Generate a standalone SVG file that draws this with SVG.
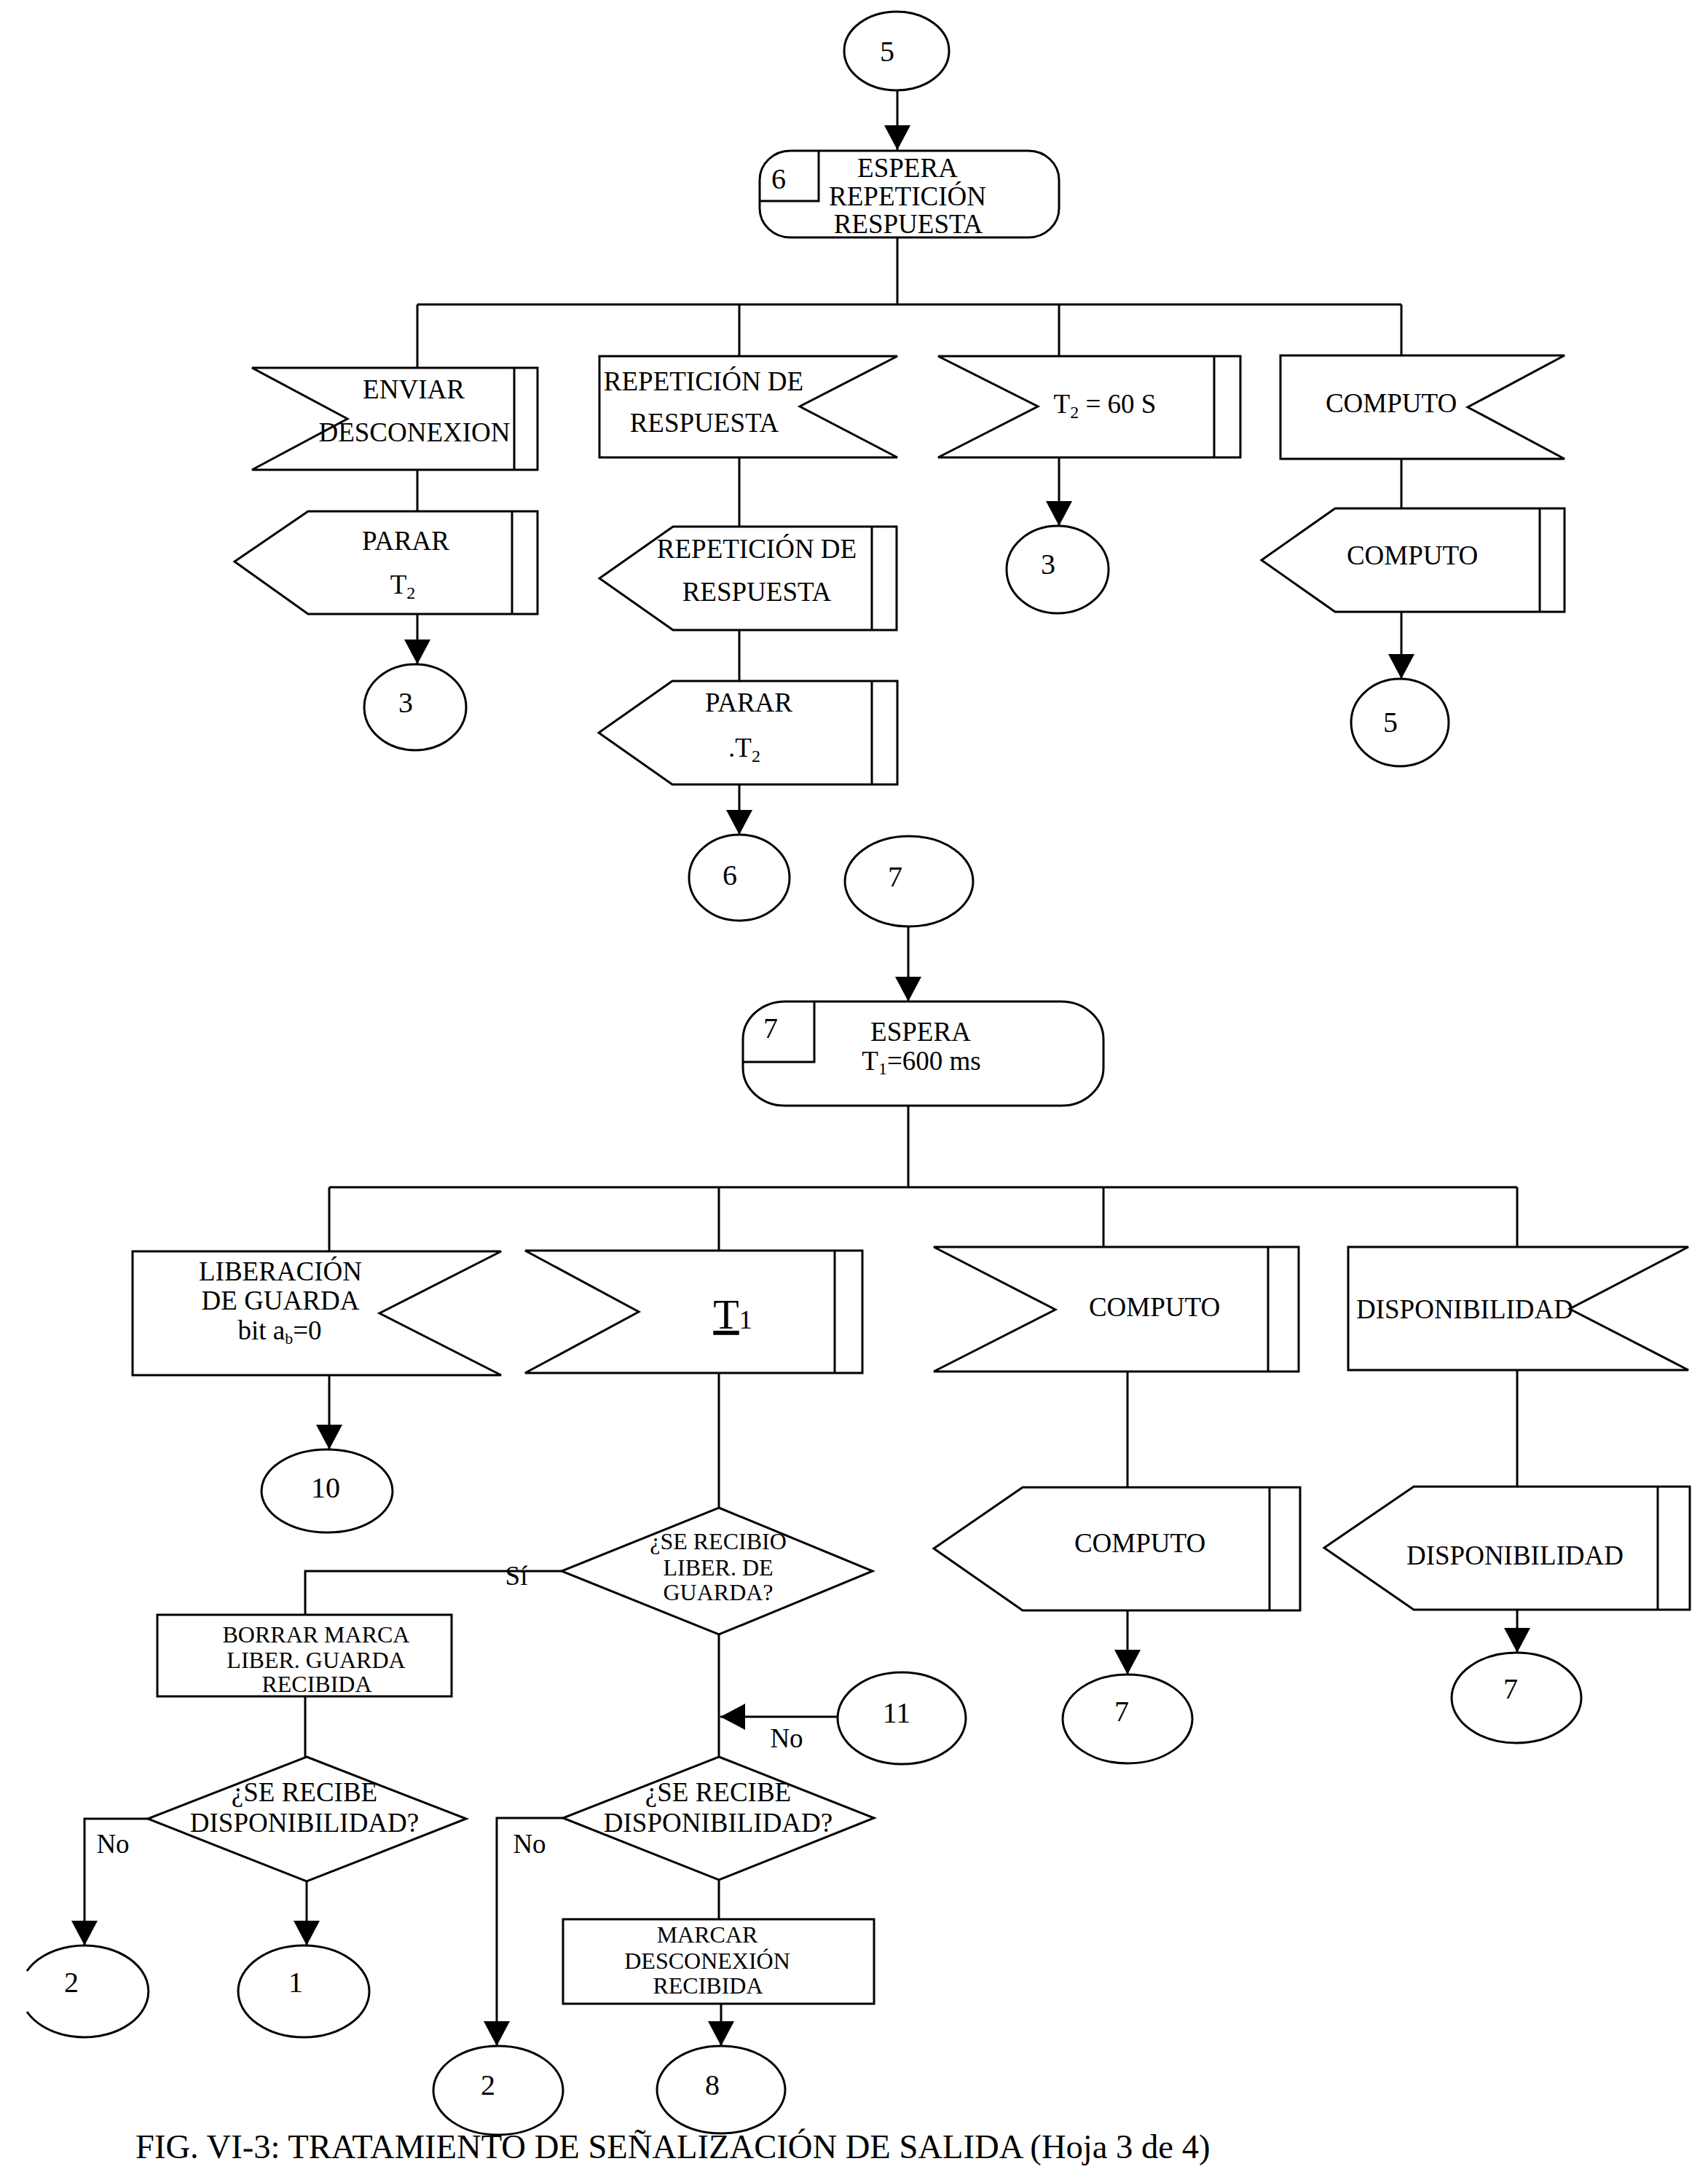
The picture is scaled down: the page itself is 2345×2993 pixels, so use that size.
<svg xmlns="http://www.w3.org/2000/svg" width="2345" height="2993" viewBox="0 0 2345 2993">
<style>
.s{fill:#fff;stroke:#000;stroke-width:3;stroke-linejoin:miter}
.l{fill:none;stroke:#000;stroke-width:3}
.a{fill:none;stroke:#000;stroke-width:3;marker-end:url(#ah)}
text{font-family:"Liberation Serif","Times New Roman",serif;font-size:37px;text-anchor:middle;fill:#000}
.sm{font-size:32px}
.n{font-size:40px}
.big{font-size:58px}
.cap{font-size:46.6px;text-anchor:start}
</style>
<defs>
<marker id="ah" markerUnits="userSpaceOnUse" markerWidth="36" markerHeight="36" viewBox="0 0 36 36" refX="34" refY="18" orient="auto">
<path d="M0,0 L34,18 L0,36 z" fill="#000"/>
</marker>
</defs>
<rect width="2345" height="2993" fill="#fff"/>

<g id="connectors">
<path class="a" d="M1232,124 V206"/>
<path class="l" d="M1232,326 V418"/>
<path class="l" d="M573,418 H1924"/>
<path class="l" d="M573,418 V505"/>
<path class="l" d="M1015,418 V489"/>
<path class="l" d="M1454,418 V489"/>
<path class="l" d="M1924,418 V489"/>
<path class="l" d="M573,645 V702"/>
<path class="a" d="M573,843 V912"/>
<path class="l" d="M1015,628 V723"/>
<path class="l" d="M1015,865 V935"/>
<path class="a" d="M1015,1077 V1146"/>
<path class="a" d="M1454,628 V722"/>
<path class="l" d="M1924,630 V698"/>
<path class="a" d="M1924,840 V932"/>

<path class="a" d="M1247,1272 V1375"/>
<path class="l" d="M1247,1518 V1630"/>
<path class="l" d="M452,1630 H2083"/>
<path class="l" d="M452,1630 V1718"/>
<path class="l" d="M987,1630 V1717"/>
<path class="l" d="M1515,1630 V1712"/>
<path class="l" d="M2083,1630 V1712"/>
<path class="a" d="M452,1888 V1990"/>
<path class="l" d="M987,1885 V2070"/>
<path class="l" d="M1548,1883 V2042"/>
<path class="l" d="M2083,1881 V2041"/>
<path class="a" d="M1548,2211 V2299"/>
<path class="a" d="M2083,2210 V2269"/>
<path class="l" d="M771,2157 H419 V2217"/>
<path class="l" d="M419,2329 V2412"/>
<path class="a" d="M203,2497 H116 V2671"/>
<path class="a" d="M421,2583 V2671"/>
<path class="l" d="M987,2244 V2412"/>
<path class="a" d="M1150,2357 H989"/>
<path class="a" d="M773,2496 H682 V2809"/>
<path class="l" d="M987,2581 V2635"/>
<path class="a" d="M990,2751 V2809"/>
</g>

<g id="c5top"><ellipse class="s" cx="1231" cy="70" rx="72" ry="54"/><text class="n" x="1218" y="84">5</text></g>

<g id="espera6">
<rect class="s" x="1043" y="207" width="411" height="119" rx="42" ry="40"/>
<path class="l" d="M1124,207 V276 H1043"/>
<text class="n" x="1069" y="259">6</text>
<text x="1246" y="243">ESPERA</text>
<text x="1246" y="282">REPETICIÓN</text>
<text x="1247" y="320">RESPUESTA</text>
</g>

<g id="enviar">
<polygon class="s" points="346,505 477,575 346,645 738,645 738,505"/>
<path class="l" d="M706,505 V645"/>
<text x="568" y="547">ENVIAR</text>
<text x="569" y="606">DESCONEXION</text>
</g>

<g id="repeticion-in">
<polygon class="s" points="823,489 1232,489 1098,558 1232,628 823,628"/>
<text x="966" y="536">REPETICIÓN DE</text>
<text x="967" y="593">RESPUESTA</text>
</g>

<g id="t2">
<polygon class="s" points="1288,489 1425,558 1288,628 1703,628 1703,489"/>
<path class="l" d="M1667,489 V628"/>
<text x="1517" y="567">T<tspan font-size="24" dy="7">2</tspan><tspan dy="-7"> = 60 S</tspan></text>
</g>

<g id="computo-in1">
<polygon class="s" points="1758,488 2148,488 2015,559 2148,630 1758,630"/>
<text x="1910" y="566">COMPUTO</text>
</g>

<g id="parar1">
<polygon class="s" points="423,702 738,702 738,843 423,843 322,771"/>
<path class="l" d="M703,702 V843"/>
<text x="557" y="755">PARAR</text>
<text x="553" y="815">T<tspan font-size="24" dy="7">2</tspan></text>
</g>

<g id="repeticion-out">
<polygon class="s" points="924,723 1231,723 1231,865 924,865 823,794"/>
<path class="l" d="M1197,723 V865"/>
<text x="1039" y="766">REPETICIÓN DE</text>
<text x="1039" y="825">RESPUESTA</text>
</g>

<g id="parar2">
<polygon class="s" points="923,935 1232,935 1232,1077 923,1077 822,1006"/>
<path class="l" d="M1197,935 V1077"/>
<text x="1028" y="977">PARAR</text>
<text x="1022" y="1039">.T<tspan font-size="24" dy="7">2</tspan></text>
</g>

<g id="computo-out1">
<polygon class="s" points="1833,698 2148,698 2148,840 1833,840 1732,769"/>
<path class="l" d="M2114,698 V840"/>
<text x="1939" y="775">COMPUTO</text>
</g>

<g id="c3a"><ellipse class="s" cx="570" cy="971" rx="70" ry="59"/><text class="n" x="557" y="978">3</text></g>
<g id="c3b"><ellipse class="s" cx="1452" cy="782" rx="70" ry="60"/><text class="n" x="1439" y="788">3</text></g>
<g id="c5b"><ellipse class="s" cx="1922" cy="992" rx="67" ry="60"/><text class="n" x="1909" y="1005">5</text></g>
<g id="c6"><ellipse class="s" cx="1015" cy="1205" rx="69" ry="59"/><text class="n" x="1002" y="1215">6</text></g>
<g id="c7top"><ellipse class="s" cx="1248" cy="1210" rx="88" ry="62"/><text class="n" x="1229" y="1217">7</text></g>

<g id="espera7">
<rect class="s" x="1020" y="1375" width="495" height="143" rx="58" ry="52"/>
<path class="l" d="M1118,1375 V1458 H1020"/>
<text class="n" x="1058" y="1425">7</text>
<text x="1264" y="1429">ESPERA</text>
<text x="1265" y="1469">T<tspan font-size="24" dy="6">1</tspan><tspan dy="-6">=600 ms</tspan></text>
</g>

<g id="liberacion">
<polygon class="s" points="182,1718 688,1718 521,1803 688,1888 182,1888"/>
<text x="385" y="1758">LIBERACIÓN</text>
<text x="385" y="1798">DE GUARDA</text>
<text x="384" y="1839">bit a<tspan font-size="22" dy="6">b</tspan><tspan dy="-6">=0</tspan></text>
</g>

<g id="t1">
<polygon class="s" points="721,1717 877,1801 721,1885 1184,1885 1184,1717"/>
<path class="l" d="M1146,1717 V1885"/>
<text class="big" x="1006" y="1824"><tspan text-decoration="underline">T</tspan><tspan font-size="36">1</tspan></text>
</g>

<g id="computo-in2">
<polygon class="s" points="1282,1712 1449,1798 1282,1883 1783,1883 1783,1712"/>
<path class="l" d="M1741,1712 V1883"/>
<text x="1585" y="1807">COMPUTO</text>
</g>

<g id="disp-in">
<polygon class="s" points="1851,1712 2318,1712 2155,1797 2318,1881 1851,1881"/>
<text x="2011" y="1810">DISPONIBILIDAD</text>
</g>

<g id="computo-out2">
<polygon class="s" points="1404,2042 1785,2042 1785,2211 1404,2211 1282,2126"/>
<path class="l" d="M1743,2042 V2211"/>
<text x="1565" y="2131">COMPUTO</text>
</g>

<g id="disp-out">
<polygon class="s" points="1941,2041 2320,2041 2320,2210 1941,2210 1818,2125"/>
<path class="l" d="M2276,2041 V2210"/>
<text x="2080" y="2148">DISPONIBILIDAD</text>
</g>

<g id="c10"><ellipse class="s" cx="449" cy="2047" rx="90" ry="57"/><text class="n" x="447" y="2056">10</text></g>
<g id="c7a"><ellipse class="s" cx="1548" cy="2360" rx="89" ry="61"/><text class="n" x="1540" y="2363">7</text></g>
<g id="c7b"><ellipse class="s" cx="2082" cy="2331" rx="89" ry="62"/><text class="n" x="2074" y="2332">7</text></g>

<g id="dec1">
<polygon class="s" points="987,2070 1198,2157 987,2244 771,2157"/>
<text class="sm" x="986" y="2127">¿SE RECIBIO</text>
<text class="sm" x="986" y="2163">LIBER. DE</text>
<text class="sm" x="986" y="2197">GUARDA?</text>
</g>
<text id="lbl-si" x="709" y="2176">Sí</text>

<g id="borrar">
<rect class="s" x="216" y="2217" width="404" height="112"/>
<text class="sm" x="434" y="2255">BORRAR MARCA</text>
<text class="sm" x="434" y="2290">LIBER. GUARDA</text>
<text class="sm" x="435" y="2323">RECIBIDA</text>
</g>

<g id="dec2">
<polygon class="s" points="421,2412 640,2497 421,2583 203,2497"/>
<text x="418" y="2473">¿SE RECIBE</text>
<text x="418" y="2515">DISPONIBILIDAD?</text>
</g>
<text id="lbl-no1" x="155" y="2544">No</text>

<g id="c11"><ellipse class="s" cx="1238" cy="2359" rx="88" ry="63"/><text class="n" x="1231" y="2365">11</text></g>
<text id="lbl-no2" x="1080" y="2399">No</text>

<g id="dec3">
<polygon class="s" points="987,2412 1200,2496 987,2581 773,2496"/>
<text x="986" y="2473">¿SE RECIBE</text>
<text x="986" y="2515">DISPONIBILIDAD?</text>
</g>
<text id="lbl-no3" x="727" y="2544">No</text>

<g id="marcar">
<rect class="s" x="773" y="2635" width="427" height="116"/>
<text class="sm" x="971" y="2667">MARCAR</text>
<text class="sm" x="971" y="2703">DESCONEXIÓN</text>
<text class="sm" x="972" y="2737">RECIBIDA</text>
</g>

<g id="c2a"><path class="s" d="M37,2706 A88,63 0 1,1 37,2762"/><text class="n" x="98" y="2735">2</text></g>
<g id="c1"><ellipse class="s" cx="417" cy="2734" rx="90" ry="63"/><text class="n" x="406" y="2735">1</text></g>
<g id="c2b"><ellipse class="s" cx="684" cy="2870" rx="89" ry="61"/><text class="n" x="670" y="2876">2</text></g>
<g id="c8"><ellipse class="s" cx="990" cy="2869" rx="88" ry="60"/><text class="n" x="978" y="2876">8</text></g>

<text id="caption" class="cap" x="186" y="2963">FIG. VI-3: TRATAMIENTO DE SEÑALIZACIÓN DE SALIDA (Hoja 3 de 4)</text>
</svg>
